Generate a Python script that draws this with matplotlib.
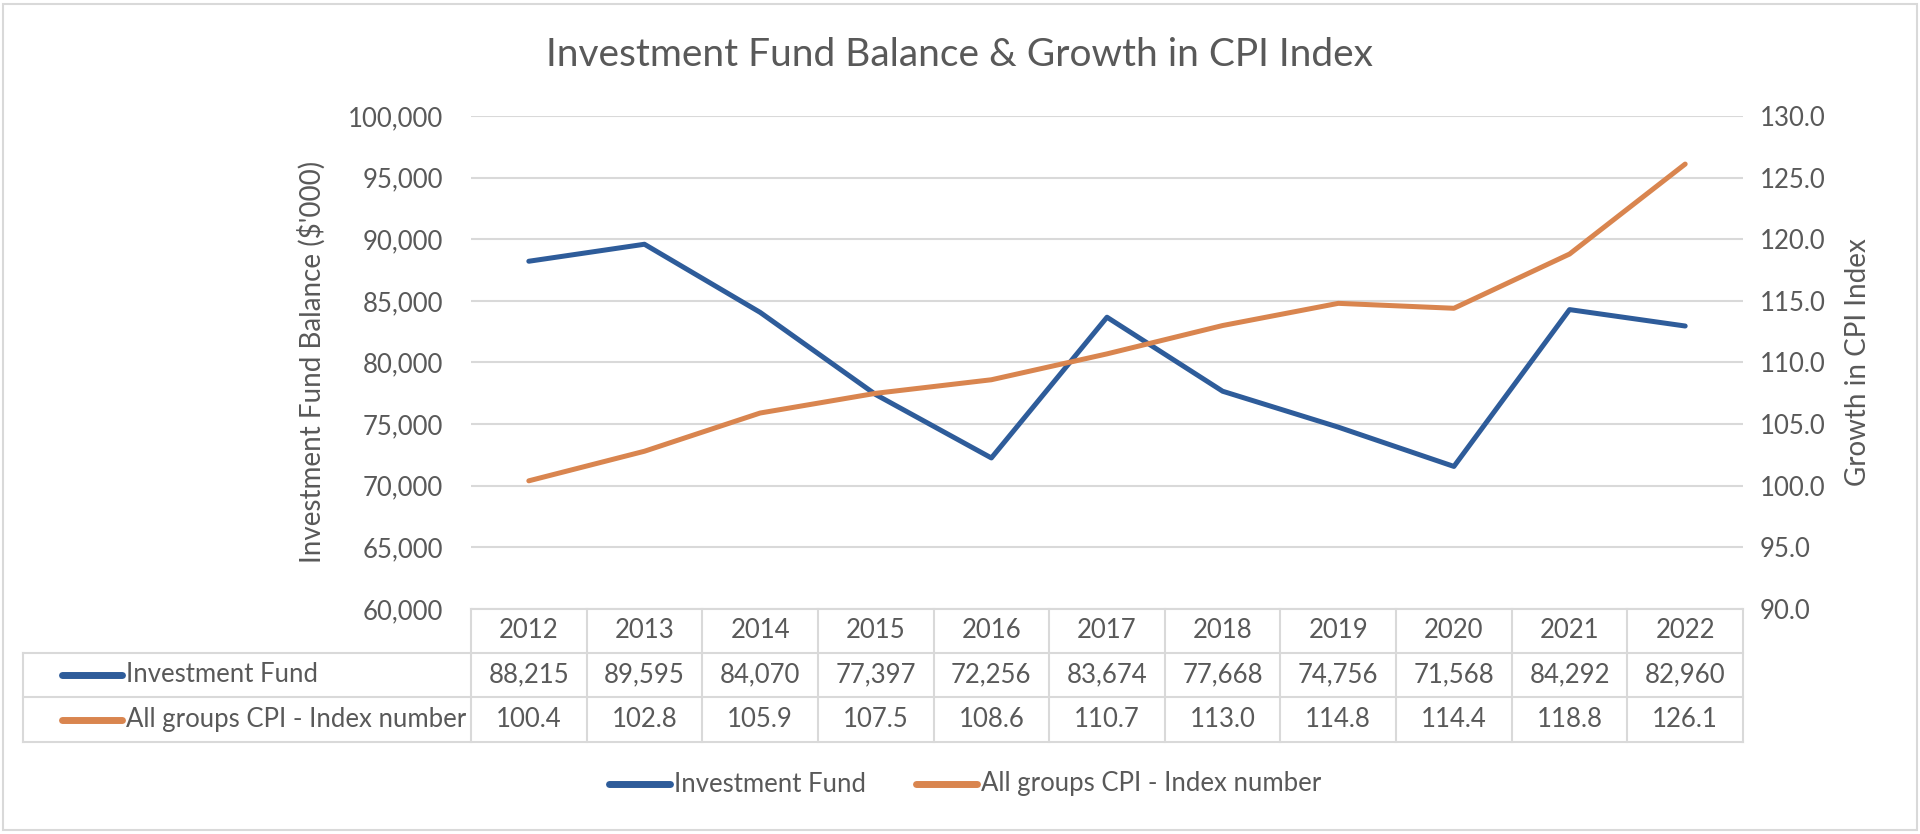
import numpy as np
import matplotlib.pyplot as plt
from matplotlib.lines import Line2D
from matplotlib.patches import Rectangle
from matplotlib.transforms import blended_transform_factory

plt.rcParams['font.family'] = ['Lato', 'DejaVu Sans']

years = ['2012', '2013', '2014', '2015', '2016', '2017', '2018', '2019', '2020', '2021', '2022']
fund = [88215, 89595, 84070, 77397, 72256, 83674, 77668, 74756, 71568, 84292, 82960]
cpi = [100.4, 102.8, 105.9, 107.5, 108.6, 110.7, 113.0, 114.8, 114.4, 118.8, 126.1]
fund_name = 'Investment Fund'
cpi_name = 'All groups CPI - Index number'

W, H = 1920, 834
blue = '#2E5C9A'
orange = '#D9854F'
txt = '#595959'
grid = '#D9D9D9'
fs = 18.5


def fx(px):
    return px / W


def fy(py):
    return 1 - py / H


fig = plt.figure(figsize=(W / 100, H / 100), dpi=100)
ax = fig.add_axes([fx(471), fy(609), fx(1743) - fx(471), fy(116) - fy(609)])
ax2 = ax.twinx()

x = np.arange(len(years))
ax.plot(x, fund, color=blue, lw=3.6, solid_capstyle='round', solid_joinstyle='round', zorder=3)
ax2.plot(x, cpi, color=orange, lw=3.6, solid_capstyle='round', solid_joinstyle='round', zorder=3)

ax.set_xlim(-0.5, len(years) - 0.5)
ax.set_ylim(60000, 100000)
ax.set_yticks(np.arange(60000, 100001, 5000))
ax.set_yticklabels([f'{v:,}' for v in range(60000, 100001, 5000)])
ax2.set_ylim(90, 130)
ax2.set_yticks(np.arange(90, 130.1, 5))
ax2.set_yticklabels([f'{v:.1f}' for v in np.arange(90, 130.1, 5)])
ax.set_xticks([])
ax.grid(axis='y', color=grid, lw=1.5)
ax.set_axisbelow(True)
for a in (ax, ax2):
    for s in a.spines.values():
        s.set_visible(False)
ax.tick_params(axis='y', length=0, pad=20, labelsize=fs, labelcolor=txt)
ax2.tick_params(axis='y', length=0, pad=12, labelsize=fs, labelcolor=txt)

fig.text(fx(312), fy(362), "Investment Fund Balance ($'000)", rotation=90,
         ha='center', va='center', fontsize=20, color=txt)
fig.text(fx(1858), fy(362), 'Growth in CPI Index', rotation=90,
         ha='center', va='center', fontsize=20, color=txt)
fig.text(0.5, fy(55), 'Investment Fund Balance & Growth in CPI Index',
         ha='center', va='center', fontsize=28, color=txt)

# data table under the plot
tr = blended_transform_factory(ax.transData, fig.transFigure)
row_y = [609, 653, 697, 742]
for b in np.arange(len(years) + 1) - 0.5:
    fig.add_artist(Line2D([b, b], [fy(609), fy(742)], transform=tr, color=grid, lw=1.5))
fig.add_artist(Line2D([-0.5, len(years) - 0.5], [fy(609), fy(609)], transform=tr, color=grid, lw=1.5))
for yy in row_y[1:]:
    fig.add_artist(Line2D([fx(23), fx(1743)], [fy(yy), fy(yy)], transform=fig.transFigure,
                          color=grid, lw=1.5))
fig.add_artist(Line2D([fx(23), fx(23)], [fy(653), fy(742)], transform=fig.transFigure,
                      color=grid, lw=1.5))

for i in range(len(years)):
    fig.text(x[i], fy(631), years[i], transform=tr, ha='center', va='center', fontsize=fs, color=txt)
    fig.text(x[i], fy(675), f'{fund[i]:,}', transform=tr, ha='center', va='center', fontsize=fs, color=txt)
    fig.text(x[i], fy(719.5), f'{cpi[i]:.1f}', transform=tr, ha='center', va='center', fontsize=fs, color=txt)

for name, col, yy in [(fund_name, blue, 675), (cpi_name, orange, 719.5)]:
    fig.add_artist(Line2D([fx(62), fx(122)], [fy(yy), fy(yy)], transform=fig.transFigure,
                          color=col, lw=5, solid_capstyle='round'))
    fig.text(fx(126), fy(yy), name, ha='left', va='center', fontsize=fs, color=txt)

# legend at bottom
for name, col, x0 in [(fund_name, blue, 609), (cpi_name, orange, 916)]:
    fig.add_artist(Line2D([fx(x0), fx(x0 + 61)], [fy(784), fy(784)], transform=fig.transFigure,
                          color=col, lw=5, solid_capstyle='round'))
    fig.text(fx(x0 + 65), fy(784), name, ha='left', va='center', fontsize=fs, color=txt)

fig.add_artist(Rectangle((fx(3), fy(830)), fx(1914), 826 / H, transform=fig.transFigure,
                         fill=False, edgecolor=grid, lw=1.5))

fig.savefig('out.png', dpi=100)
